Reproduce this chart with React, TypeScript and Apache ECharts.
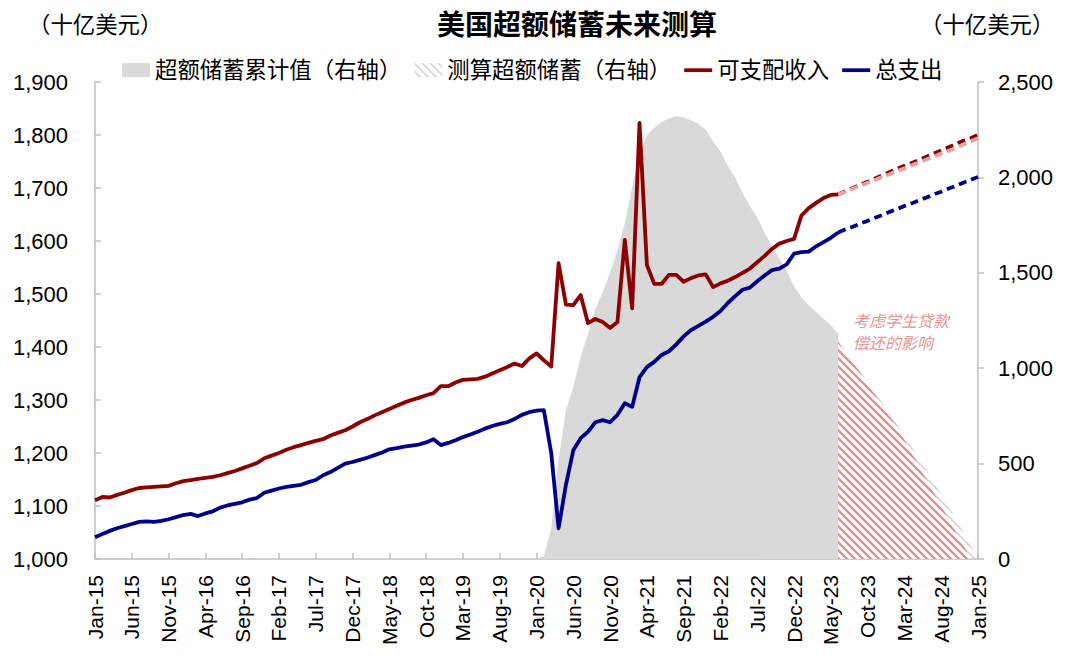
import React, { useEffect, useRef } from "react";
import * as echarts from "echarts";

const FONT = '"Liberation Sans", "Noto Sans CJK SC", sans-serif';

const MONTHS = ["Jan", "Feb", "Mar", "Apr", "May", "Jun", "Jul", "Aug", "Sep", "Oct", "Nov", "Dec"];
const FIRST_YEAR = 15;
const MONTH_COUNT = 121; // Jan-15 .. Jan-25
const categories: string[] = Array.from({ length: MONTH_COUNT }, (_, i) => `${MONTHS[i % 12]}-${FIRST_YEAR + Math.floor(i / 12)}`);

// 可支配收入 (left axis), Jan-15 .. Jun-23
const incomeActual = [
  1111, 1117, 1116, 1121, 1125, 1130, 1134, 1135, 1136, 1137,
  1138, 1143, 1147, 1149, 1151, 1153, 1155, 1158, 1162, 1166,
  1171, 1176, 1181, 1190, 1195, 1200, 1206, 1211, 1215, 1219,
  1223, 1226, 1233, 1238, 1243, 1250, 1258, 1264, 1271, 1277,
  1283, 1289, 1295, 1300, 1304, 1309, 1313, 1326, 1326, 1333,
  1338, 1339, 1340, 1344, 1350, 1356, 1362, 1369, 1364, 1378,
  1388, 1375, 1363, 1558, 1480, 1479, 1498, 1445, 1453, 1447,
  1436, 1447, 1602, 1473, 1823, 1555, 1519, 1519, 1536, 1536,
  1523, 1530, 1535, 1537, 1513, 1520, 1525, 1532, 1540, 1548,
  1560, 1572, 1585, 1595, 1600, 1604, 1648, 1662, 1672, 1681,
  1687, 1688,
];

// 总支出 (left axis), Jan-15 .. Jun-23
const spendingActual = [
  1041, 1047, 1053, 1058, 1062, 1066, 1070, 1071, 1070, 1072,
  1075, 1079, 1083, 1085, 1081, 1086, 1090, 1097, 1101, 1104,
  1107, 1112, 1115, 1125, 1129, 1133, 1136, 1138, 1140, 1145,
  1149, 1158, 1164, 1172, 1180, 1183, 1187, 1191, 1196, 1201,
  1207, 1209, 1212, 1214, 1216, 1220, 1226, 1215, 1219, 1224,
  1230, 1235, 1240, 1246, 1251, 1255, 1258, 1264, 1272, 1277,
  1280, 1281, 1200, 1058, 1140, 1205, 1228, 1240, 1258, 1262,
  1258, 1272, 1294, 1287, 1343, 1362, 1372, 1385, 1392, 1405,
  1420, 1432, 1440, 1448, 1457, 1468, 1483, 1496, 1508, 1512,
  1524, 1535, 1545, 1548, 1556, 1576, 1579, 1580, 1590, 1598,
  1606, 1616,
];

// 超额储蓄累计值 (right axis), Jan-20 .. Jun-23
const SAVINGS_START = 60;
const savingsActual = [
  0, 15, 160, 520, 780, 900, 1060, 1180, 1310, 1400,
  1500, 1620, 1760, 1950, 2120, 2220, 2260, 2290, 2310, 2320,
  2315, 2300, 2280, 2250, 2190, 2135, 2060, 2000, 1920, 1850,
  1790, 1710, 1640, 1575, 1510, 1430, 1370, 1330, 1295, 1260,
  1225, 1180,
];

// Projections, Jun-23 .. Jan-25
const PROJ_START = 101;
const incomeProjection = [
  1688, 1694, 1700, 1706, 1712, 1718, 1724, 1730, 1736, 1742,
  1747, 1753, 1759, 1765, 1771, 1777, 1783, 1789, 1794, 1800,
];
const incomeProjectionLoan = [
  1688, 1693, 1699, 1704, 1710, 1715, 1721, 1726, 1732, 1737,
  1743, 1748, 1754, 1759, 1765, 1770, 1776, 1782, 1788, 1794,
];
const spendingProjection = [
  1616, 1622, 1627, 1633, 1638, 1644, 1649, 1655, 1660, 1666,
  1671, 1677, 1682, 1688, 1693, 1699, 1704, 1710, 1715, 1721,
];
const savingsProjection = [
  1140, 1088, 1036, 984, 930, 876, 820, 764, 707, 648,
  588, 527, 465, 403, 340, 276, 210, 142, 72, 0,
];
const savingsProjectionLoan = [
  1140, 1085, 1030, 975, 918, 860, 802, 745, 690, 622,
  553, 484, 415, 346, 276, 207, 138, 69, 0,
];

const pad = (start: number, arr: number[]) =>
  categories.map((_, i) => (i >= start && i < start + arr.length ? arr[i - start] : null));

function stripePattern(color: string, lineWidth: number, bg: string | null, size = 8) {
  const c = document.createElement("canvas");
  c.width = size;
  c.height = size;
  const ctx = c.getContext("2d")!;
  if (bg) {
    ctx.fillStyle = bg;
    ctx.fillRect(0, 0, size, size);
  }
  ctx.strokeStyle = color;
  ctx.lineWidth = lineWidth;
  ctx.beginPath();
  for (let k = -1; k <= 1; k++) {
    ctx.moveTo(k * size - 1, -1);
    ctx.lineTo(k * size + size + 1, size + 1);
  }
  ctx.stroke();
  return { image: c.toDataURL(), repeat: "repeat", imageWidth: size, imageHeight: size } as any;
}

const fmt = (v: number) => v.toLocaleString("en-US");

const RED = "#8B0000";
const PINK = "#E6A1A1";
const BLUE = "#00008B";
const GREY = "#D9D9D9";
const AXIS = "#BFBFBF";
const LINE_ICON = "path://M0,0M0,5h30v4h-30zM30,14";
const LW = 3.8;

export default function App() {
  const ref = useRef<HTMLDivElement>(null);
  useEffect(() => {
    document.body.style.margin = "0";
    const chart = echarts.init(ref.current!, null, { renderer: "svg" });
    const greyHatch = stripePattern("#D4D4D4", 1.6, null);
    const redHatch = stripePattern("#E08E8E", 2.4, "#FFFFFF");

    const option: any = {
      animation: false,
      textStyle: { fontFamily: FONT },
      title: {
        text: "美国超额储蓄未来测算",
        left: 437,
        top: 11,
        padding: 0,
        textStyle: { fontSize: 28, fontWeight: "bold", color: "#000", fontFamily: FONT },
      },
      legend: {
        left: 122,
        top: 59,
        padding: 0,
        itemGap: 13,
        itemWidth: 28,
        itemHeight: 14,
        textStyle: { fontSize: 22.4, color: "#000", fontFamily: FONT },
        data: [
          { name: "超额储蓄累计值（右轴）", icon: "rect", itemStyle: { color: GREY } },
          { name: "测算超额储蓄（右轴）", icon: "rect", itemStyle: { color: greyHatch } },
          { name: "可支配收入", icon: LINE_ICON, itemStyle: { color: RED } },
          { name: "总支出", icon: LINE_ICON, itemStyle: { color: BLUE } },
        ],
      },
      grid: { left: 95, right: 102, top: 82, bottom: 105 },
      xAxis: {
        type: "category",
        data: categories,
        boundaryGap: false,
        axisLine: { lineStyle: { color: AXIS, width: 1.5 } },
        axisTick: { inside: true, interval: 4, length: 6, lineStyle: { color: AXIS, width: 1.5 } },
        axisLabel: { interval: 4, rotate: 90, fontSize: 21, color: "#000", margin: 16, fontFamily: FONT },
      },
      yAxis: [
        {
          type: "value",
          min: 1000,
          max: 1900,
          interval: 100,
          axisLine: { show: true, lineStyle: { color: AXIS, width: 1.5 } },
          axisTick: { show: true, inside: true, length: 6, lineStyle: { color: AXIS, width: 1.5 } },
          splitLine: { show: false },
          axisLabel: { fontSize: 22, color: "#000", margin: 27, formatter: fmt, fontFamily: FONT },
        },
        {
          type: "value",
          position: "right",
          min: 0,
          max: 2500,
          interval: 500,
          axisLine: { show: true, lineStyle: { color: AXIS, width: 1.5 } },
          axisTick: { show: true, inside: false, length: 6, lineStyle: { color: AXIS, width: 1.5 } },
          splitLine: { show: false },
          axisLabel: { fontSize: 22, color: "#000", margin: 20, formatter: fmt, fontFamily: FONT },
        },
      ],
      graphic: [
        { type: "text", left: 28, top: 14, style: { text: "（十亿美元）", fontSize: 22.4, fill: "#000", fontFamily: FONT } },
        { type: "text", left: 920, top: 14, style: { text: "（十亿美元）", fontSize: 22.4, fill: "#000", fontFamily: FONT } },
        {
          type: "text",
          left: 853,
          top: 311,
          z: 10,
          style: {
            text: "考虑学生贷款\n偿还的影响",
            fontSize: 16,
            fontStyle: "italic",
            lineHeight: 21.5,
            fill: "#E59595",
            fontFamily: FONT,
          },
        },
      ],
      series: [
        {
          name: "超额储蓄累计值（右轴）",
          type: "line",
          yAxisIndex: 1,
          data: pad(SAVINGS_START, savingsActual),
          symbol: "none",
          lineStyle: { width: 0 },
          itemStyle: { color: GREY },
          areaStyle: { color: GREY, opacity: 1 },
        },
        {
          name: "测算超额储蓄（右轴）",
          type: "line",
          yAxisIndex: 1,
          data: pad(PROJ_START, savingsProjection),
          symbol: "none",
          lineStyle: { width: 0 },
          itemStyle: { color: greyHatch },
          areaStyle: { color: greyHatch, opacity: 1 },
        },
        {
          name: "测算超额储蓄（考虑学生贷款）",
          type: "line",
          yAxisIndex: 1,
          data: pad(PROJ_START, savingsProjectionLoan),
          symbol: "none",
          lineStyle: { width: 0 },
          itemStyle: { color: redHatch },
          areaStyle: { color: redHatch, opacity: 1 },
        },
        {
          name: "可支配收入",
          type: "line",
          data: pad(0, incomeActual),
          symbol: "none",
          itemStyle: { color: RED },
          lineStyle: { color: RED, width: LW, join: "round" },
        },
        {
          name: "可支配收入（预测）",
          type: "line",
          data: pad(PROJ_START, incomeProjection),
          symbol: "none",
          itemStyle: { color: RED },
          lineStyle: { color: RED, width: LW, type: [8, 5] },
        },
        {
          name: "可支配收入（考虑学生贷款）",
          type: "line",
          data: pad(PROJ_START, incomeProjectionLoan),
          symbol: "none",
          itemStyle: { color: PINK },
          lineStyle: { color: PINK, width: LW, type: [8, 5] },
        },
        {
          name: "总支出",
          type: "line",
          data: pad(0, spendingActual),
          symbol: "none",
          itemStyle: { color: BLUE },
          lineStyle: { color: BLUE, width: LW, join: "round" },
        },
        {
          name: "总支出（预测）",
          type: "line",
          data: pad(PROJ_START, spendingProjection),
          symbol: "none",
          itemStyle: { color: BLUE },
          lineStyle: { color: BLUE, width: LW, type: [8, 5] },
        },
      ],
    };
    chart.setOption(option);
    return () => chart.dispose();
  }, []);
  return <div ref={ref} style={{ width: 1080, height: 664 }} />;
}
